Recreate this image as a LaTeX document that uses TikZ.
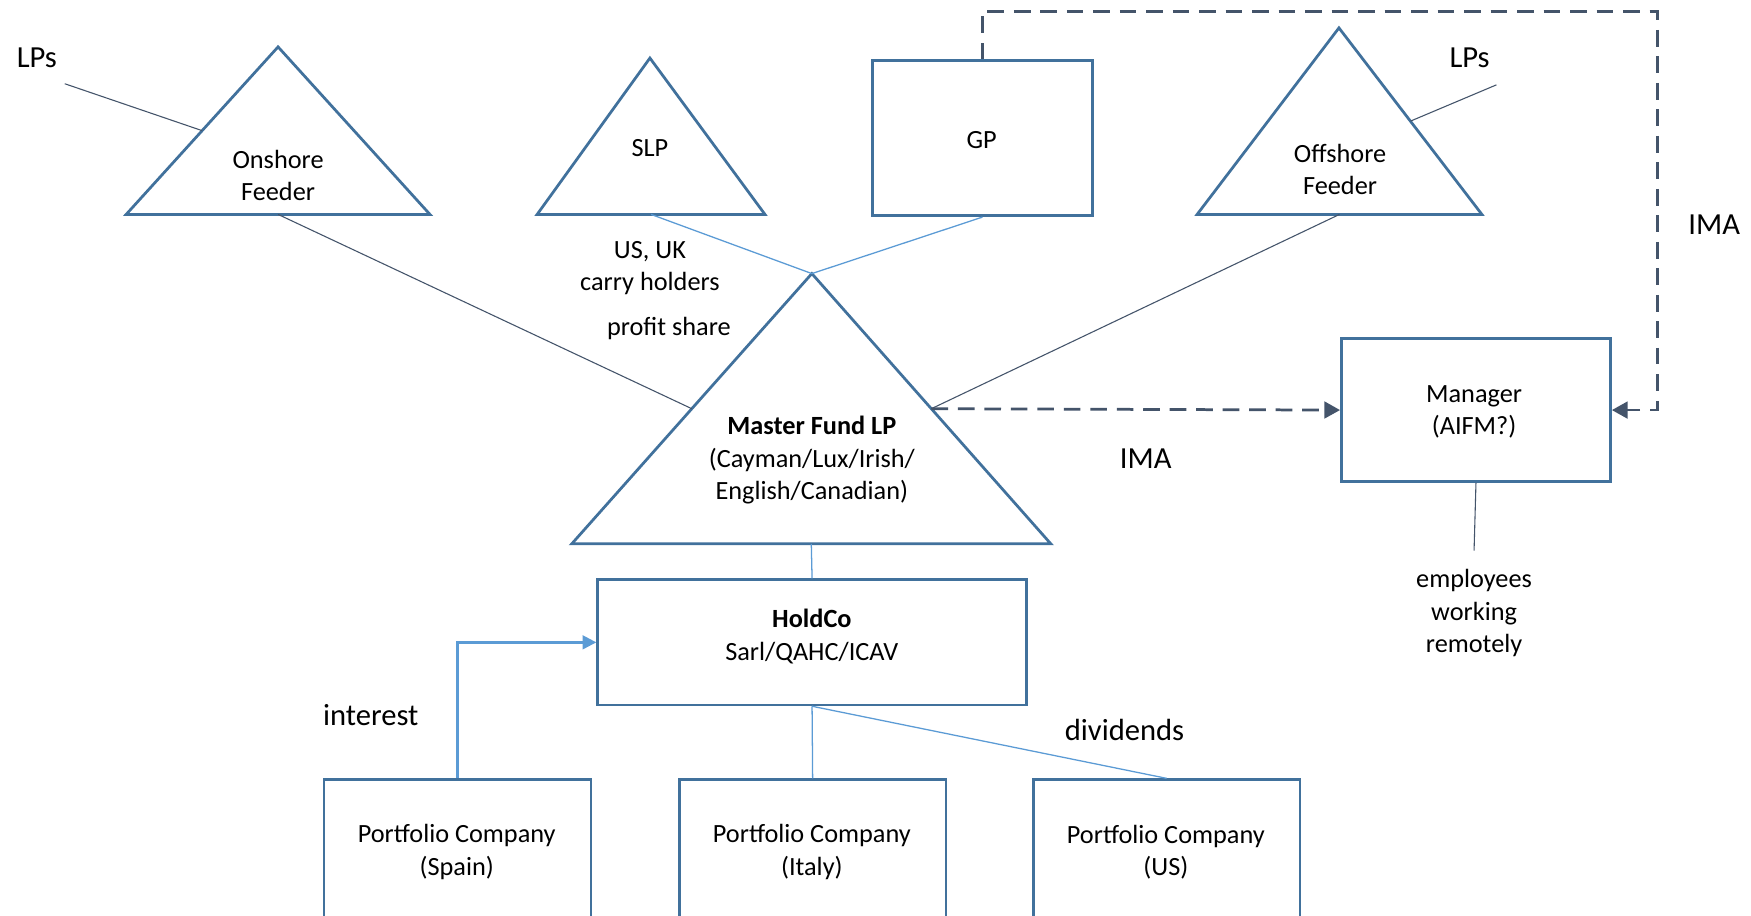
\documentclass[tikz,border=0pt]{standalone}
\usepackage{fontspec}
\setmainfont{Carlito}
\usetikzlibrary{arrows.meta,calc}
\definecolor{shapeblue}{RGB}{65,113,156}
\definecolor{darkline}{RGB}{68,84,106}
\definecolor{lightblue}{RGB}{91,155,213}
\begin{document}
\begin{tikzpicture}[x=0.02cm,y=-0.02cm,
  shapeline/.style={draw=shapeblue,line width=1.4pt},
  box/.style={shapeline,rectangle,inner sep=0pt,anchor=north west},
  txt/.style={align=center,font=\fontsize{13.4}{16.5}\selectfont,inner sep=0pt,yshift=-0.04cm},
  bigtxt/.style={align=center,font=\fontsize{15.6}{19}\selectfont,inner sep=0pt,yshift=-0.03cm},
  thinline/.style={draw=darkline,line width=0.55pt},
  lightline/.style={draw=lightblue,line width=0.65pt},
  dashline/.style={draw=darkline,line width=1.4pt,dash pattern=on 8.5pt off 5pt},
  darktip/.style={-{Triangle[length=8pt,width=8.5pt]}},
  lighttip/.style={-{Triangle[length=7pt,width=7pt]}}]
\clip (0,0) rectangle (1568,820);
\fill[white] (0,0) rectangle (1568,820);

% triangle vertices
\coordinate (onA) at (249,42);  \coordinate (onL) at (113,192);  \coordinate (onR) at (385,192);
\coordinate (slpA) at (582,52); \coordinate (slpL) at (481,192); \coordinate (slpR) at (685,192);
\coordinate (offA) at (1199,25); \coordinate (offL) at (1072,192); \coordinate (offR) at (1327,192);
\coordinate (mA) at (727,245);  \coordinate (mL) at (512,487);  \coordinate (mR) at (941,487);

\draw[shapeline] (onA) -- (onL) -- (onR) -- cycle;
\draw[shapeline] (slpA) -- (slpL) -- (slpR) -- cycle;
\draw[shapeline] (offA) -- (offL) -- (offR) -- cycle;
\draw[shapeline] (mA) -- (mL) -- (mR) -- cycle;

% boxes
\node[box,minimum width=3.94cm,minimum height=2.78cm] (gp) at (780,53) {};
\node[box,minimum width=4.82cm,minimum height=2.56cm] (mgr) at (1200,302) {};
\node[box,minimum width=7.68cm,minimum height=2.24cm] (holdco) at (534,518) {};
\node[box,minimum width=4.78cm,minimum height=2.56cm] (spain) at (289,697) {};
\node[box,minimum width=4.78cm,minimum height=2.56cm] (italy) at (607,697) {};
\node[box,minimum width=4.78cm,minimum height=2.56cm] (us) at (924,697) {};

% texts
\node[bigtxt] (lpsLt) at (33,50) {LPs};
\node[bigtxt] (lpsRt) at (1316,50) {LPs};
\node[txt] (ontxt) at (249,155) {Onshore\\Feeder};
\node[txt] (slptxt) at (582,131) {SLP};
\node[txt] (gptxt) at (879,123) {GP};
\node[txt] (offtxt) at (1200,150) {Offshore\\Feeder};
\node[txt] (carry) at (582,238) {US, UK\\carry holders};
\node[txt] (profit) at (599,292) {profit share};
\node[txt] (mtxt) at (727,410) {\textbf{Master Fund LP}\\(Cayman/Lux/Irish/\\English/Canadian)};
\node[bigtxt] (imaR) at (1535,200) {IMA};
\node[bigtxt] (imaM) at (1026,409) {IMA};
\node[txt] (mgrtxt) at (1320,367) {Manager\\(AIFM?)};
\node[txt] (emptxt) at (1320,547) {employees\\working\\remotely};
\node[txt] (hctxt) at (727,568) {\textbf{HoldCo}\\Sarl/QAHC/ICAV};
\node[bigtxt] (intxt) at (332,639) {interest};
\node[bigtxt] (divtxt) at (1007,652) {dividends};
\node[txt] (sptxt) at (409,761) {Portfolio Company\\(Spain)};
\node[txt] (ittxt) at (727,761) {Portfolio Company\\(Italy)};
\node[txt] (ustxt) at (1044,761) {Portfolio Company\\(US)};

% connector free ends
\coordinate (lpsL) at (58,75);
\coordinate (lpsR) at (1340,76);
\coordinate (ctop) at (1484,10);
\coordinate (empEnd) at (1320,493);

% connectors
\draw[thinline] (lpsL) -- ($(onA)!0.5!(onL)$);
\draw[thinline] ($(onL)!0.5!(onR)$) -- ($(mA)!0.5!(mL)$);
\draw[lightline] ($(slpL)!0.5!(slpR)$) -- (mA);
\draw[lightline] (gp.south) -- (mA);
\draw[thinline] ($(offL)!0.5!(offR)$) -- ($(mA)!0.5!(mR)$);
\draw[thinline] (lpsR) -- ($(offA)!0.5!(offR)$);
\draw[dashline,darktip] ($(mA)!0.5!(mR)$) -- (mgr.west);
\draw[dashline,darktip] (gp.north) |- (ctop) |- (mgr.east);
\draw[thinline] (mgr.south) -- (empEnd);
\draw[lightline] ($(mL)!0.5!(mR)$) -- (holdco.north);
\draw[draw=lightblue,line width=1.2pt,lighttip,fill=none] (spain.north) |- (holdco.west);
\draw[lightline] (holdco.south) -- (italy.north);
\draw[lightline] (holdco.south) -- (us.north);
\end{tikzpicture}
\end{document}
